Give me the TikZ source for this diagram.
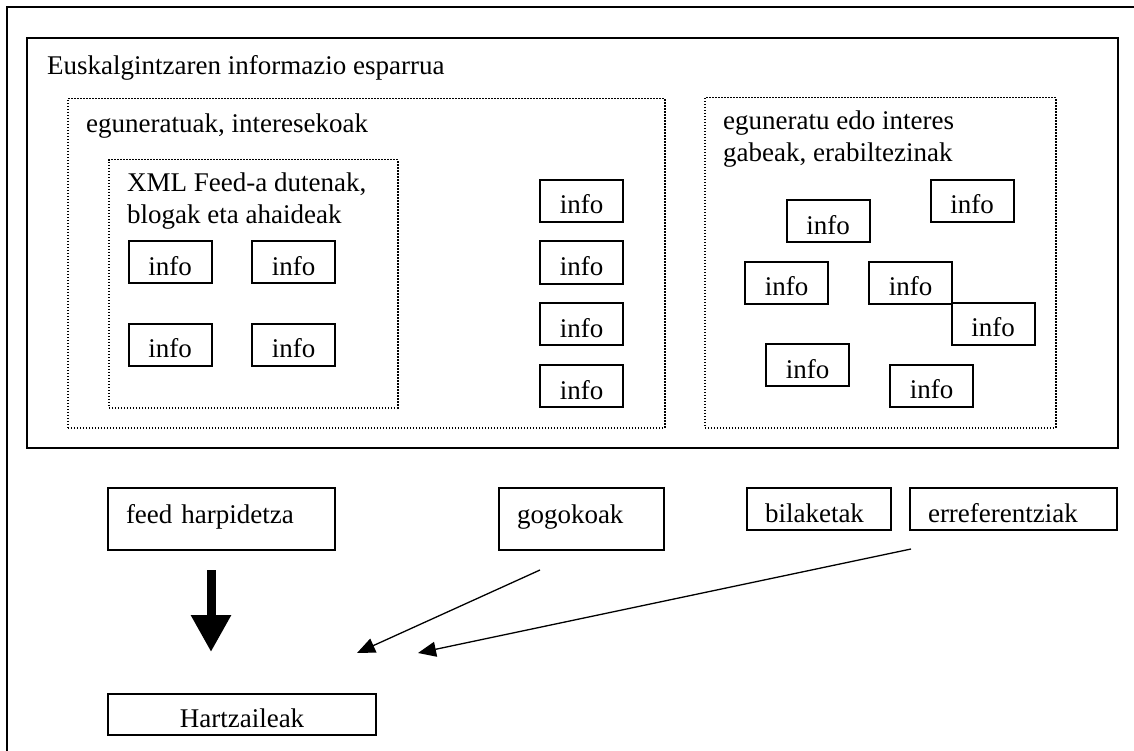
\documentclass[tikz,border=0pt]{standalone}
\usepackage{fontspec}
\setmainfont{Liberation Serif}
\usetikzlibrary{arrows.meta}
\tikzset{
  box/.style={draw, line width=2pt, inner sep=0pt},
  infobox/.style={box, minimum width=83pt, minimum height=42pt, text height=26pt, text depth=0pt},
  leftbox/.style={draw, line width=2pt, inner ysep=0pt, inner xsep=18pt, align=left},
  dotbox/.style={draw, line width=1.5pt, dash pattern=on 1.5pt off 1.5pt, inner sep=0pt, anchor=north west},
  title/.style={anchor=base west, inner sep=0pt, align=left},
  bigarrow/.style={line width=9pt, -{Triangle[length=37pt,width=38pt]}},
  thinarrow/.style={line width=1.3pt, -{Triangle[length=18pt,width=15pt]}},
}
\begin{document}
\begin{tikzpicture}[x=1pt,y=-1pt,font=\fontsize{27}{32}\selectfont]
\useasboundingbox (0,0) rectangle (1134,751);
\fill[white] (0,0) rectangle (1134,751);
% outer frame (only top and left visible)
\coordinate (fbl) at (7,751);
\coordinate (ftl) at (7,7);
\coordinate (ftr) at (1134,7);
\draw[line width=2.8pt] (fbl) -- (ftl) -- (ftr);
% main area
\node[box, minimum width=1091pt, minimum height=410pt, anchor=north west] (main) at (26,37) {};
\node[title] (maint) at (47,75) {Euskalgintzaren informazio esparrua};
% updated / interesting
\node[dotbox, minimum width=597pt, minimum height=329pt] (upd) at (67,98) {};
\node[title] (updt) at (86,133) {eguneratuak, interesekoak};
\node[dotbox, minimum width=289pt, minimum height=248pt] (xml) at (108,159) {};
\node[title] (xmlt) at (127,224) {XML Feed-a dutenak,\\blogak eta ahaideak};
\node[infobox] (x1) at (170,262) {info};
\node[infobox] (x2) at (293.5,262) {info};
\node[infobox] (x3) at (170,344.5) {info};
\node[infobox] (x4) at (293.5,344.5) {info};
\node[infobox] (r1) at (581.5,201) {info};
\node[infobox] (r2) at (581.5,262.5) {info};
\node[infobox] (r3) at (581.5,324) {info};
\node[infobox] (r4) at (581.5,386) {info};
% not updated
\node[dotbox, minimum width=351pt, minimum height=330pt] (old) at (704,97) {};
\node[title] (oldt) at (723,162) {eguneratu edo interes\\gabeak, erabiltezinak};
\node[infobox] (o1) at (828,221.5) {info};
\node[infobox] (o2) at (972,201) {info};
\node[infobox] (o3) at (786.5,282.5) {info};
\node[infobox] (o4) at (910.5,282.5) {info};
\node[infobox] (o5) at (993,323.5) {info};
\node[infobox] (o6) at (807.5,365) {info};
\node[infobox] (o7) at (931.5,385.5) {info};
% bottom
\node[leftbox, text width=191pt, minimum height=62pt, text height=18pt, text depth=10pt] (feed) at (221.5,519) {feed harpidetza};
\node[leftbox, text width=129pt, minimum height=62pt, text height=18pt, text depth=10pt] (gogo) at (581.5,519) {gogokoak};
\node[leftbox, text width=108pt, minimum height=42pt, text height=26pt, text depth=0pt] (bila) at (819,509) {bilaketak};
\node[leftbox, text width=171pt, minimum height=42pt, text height=26pt, text depth=0pt] (erre) at (1013.5,509) {erreferentziak};
\node[box, minimum width=268pt, minimum height=41pt, text height=26pt, text depth=0pt] (hartz) at (242,714.5) {Hartzaileak};
% arrows
\coordinate (a1s) at (211,570);
\coordinate (a1e) at (211,652);
\draw[bigarrow] (a1s) -- (a1e);
\coordinate (a2s) at (540,570);
\coordinate (a2e) at (357,653);
\draw[thinarrow] (a2s) -- (a2e);
\coordinate (a3s) at (911,549);
\coordinate (a3e) at (418,653);
\draw[thinarrow] (a3s) -- (a3e);
\end{tikzpicture}
\end{document}
